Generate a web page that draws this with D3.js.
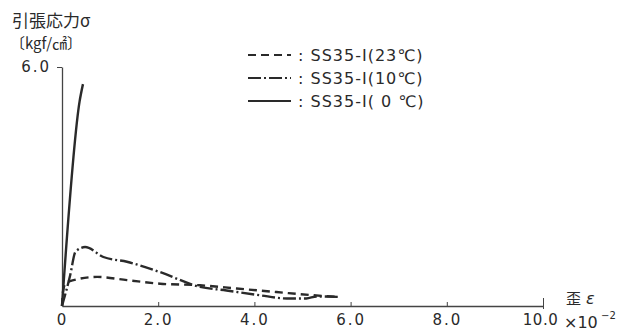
<!DOCTYPE html>
<html>
<head>
<meta charset="utf-8">
<script src="https://cdn.jsdelivr.net/npm/d3@7"></script>
<style>
  body { margin: 0; background: #fff; }
  svg { display: block; }
</style>
</head>
<body>
<svg id="chart"></svg>
<script>
const width = 627;
const height = 332;

// strain (x10^-2) and tensile stress (kgf/cm2)
const strain23 = [0, 0.02, 0.07, 0.24, 0.73, 1.35, 2.04, 2.87, 3.63, 4.46, 5.22, 5.74];
const stress23 = [0, 0.35, 0.56, 0.65, 0.73, 0.65, 0.56, 0.52, 0.44, 0.35, 0.27, 0.23];

const strain10 = [0, 0.17, 0.28, 0.48, 0.86, 1.35, 2.04, 2.87, 3.42, 4.11, 4.67, 5.08, 5.29, 5.74];
const stress10 = [0, 0.77, 1.36, 1.48, 1.23, 1.11, 0.85, 0.48, 0.39, 0.27, 0.19, 0.19, 0.24, 0.23];

const strain0 = [0, 0.365, 0.436];
const stress0 = [0, 5.13, 5.57];

const xTicks = [0, 2, 4, 6, 8, 10];
const xTickLabels = ["0", "2.0", "4.0", "6.0", "8.0", "10.0"];
const yTicks = [6];
const yTickLabels = ["6.0"];

const seriesNames = [": SS35-I(23℃)", ": SS35-I(10℃)", ": SS35-I( 0 ℃)"];

const series = [
    { name: seriesNames[0], x: strain23, y: stress23, dash: "8,5" },
    { name: seriesNames[1], x: strain10, y: stress10, dash: "13,3,2,3" },
    { name: seriesNames[2], x: strain0, y: stress0, dash: null }
];

const ink = "#2a2a2a";
const font = "'DejaVu Sans', 'Liberation Sans', sans-serif";

const svg = d3.select("#chart")
    .attr("width", width)
    .attr("height", height);

const xScale = d3.scaleLinear().domain([0, 10]).range([62, 543]);
const yScale = d3.scaleLinear().domain([0, 6]).range([306, 67]);

// x axis, ticks pointing up
const xAxis = svg.append("g")
    .attr("transform", `translate(0,${yScale(0)})`)
    .call(d3.axisBottom(xScale)
        .tickValues(xTicks)
        .tickFormat((d, i) => xTickLabels[i])
        .tickSizeInner(-4)
        .tickSizeOuter(0)
        .tickPadding(8));
xAxis.select(".domain").attr("stroke", "#444").attr("stroke-width", 1.3);
xAxis.selectAll(".tick line").attr("stroke", "#444");
xAxis.selectAll(".tick").filter(d => d === 10).select("line")
    .attr("y1", 3).attr("y2", -8);
xAxis.selectAll(".tick").filter(d => d === 0).select("line").remove();
xAxis.selectAll("text")
    .attr("fill", ink)
    .style("font-family", font)
    .style("font-size", "15px")
    .style("letter-spacing", "2px");
xAxis.selectAll(".tick").filter(d => d === 10).select("text")
    .attr("x", -3)
    .style("letter-spacing", "0.5px");

// y axis
const yAxis = svg.append("g")
    .attr("transform", `translate(${xScale(0)},0)`)
    .call(d3.axisLeft(yScale)
        .tickValues(yTicks)
        .tickFormat((d, i) => yTickLabels[i])
        .tickSizeInner(5)
        .tickSizeOuter(0)
        .tickPadding(6));
yAxis.select(".domain").attr("stroke", "#444").attr("stroke-width", 1.3);
yAxis.selectAll(".tick line").attr("stroke", "#444");
yAxis.selectAll("text")
    .attr("fill", ink)
    .style("font-family", font)
    .style("font-size", "15px")
    .style("letter-spacing", "2px");

// curves
const line = d3.line()
    .x(d => xScale(d[0]))
    .y(d => yScale(d[1]))
    .curve(d3.curveMonotoneX);

series.forEach(s => {
    const pts = s.x.map((v, i) => [v, s.y[i]]);
    svg.append("path")
        .attr("d", line(pts))
        .attr("fill", "none")
        .attr("stroke", ink)
        .attr("stroke-width", 2.4)
        .attr("stroke-dasharray", s.dash);
});

// legend
const legend = svg.append("g");
series.forEach((s, i) => {
    const ly = 55 + i * 23;
    legend.append("line")
        .attr("x1", 248).attr("x2", 291)
        .attr("y1", ly).attr("y2", ly)
        .attr("stroke", ink)
        .attr("stroke-width", 2.2)
        .attr("stroke-dasharray", s.dash);
    legend.append("text")
        .attr("x", 298)
        .attr("y", ly + 6)
        .attr("fill", ink)
        .style("font-family", font)
        .style("font-size", "16px")
        .style("letter-spacing", "1px")
        .text(s.name);
});

// axis titles
svg.append("text")
    .attr("x", 12).attr("y", 27)
    .attr("fill", ink)
    .style("font-family", "'Noto Sans CJK JP', sans-serif")
    .style("font-size", "17px")
    .text("引張応力σ");

svg.append("text")
    .attr("x", 10).attr("y", 49)
    .attr("fill", ink)
    .style("font-family", "'Noto Sans CJK JP', sans-serif")
    .style("font-size", "15px")
    .text("〔kgf/㎠〕");

svg.append("text")
    .attr("x", 566).attr("y", 304)
    .attr("fill", ink)
    .style("font-family", "'Noto Sans CJK JP', sans-serif")
    .style("font-size", "15px")
    .text("歪");

svg.append("text")
    .attr("x", 586).attr("y", 304)
    .attr("fill", ink)
    .style("font-family", font)
    .style("font-size", "16px")
    .style("font-style", "italic")
    .text("ε");

svg.append("text")
    .attr("x", 564).attr("y", 328)
    .attr("fill", ink)
    .style("font-family", font)
    .style("font-size", "16px")
    .text("×10");

svg.append("text")
    .attr("x", 601).attr("y", 319)
    .attr("fill", ink)
    .style("font-family", font)
    .style("font-size", "10px")
    .text("−2");
</script>
</body>
</html>
